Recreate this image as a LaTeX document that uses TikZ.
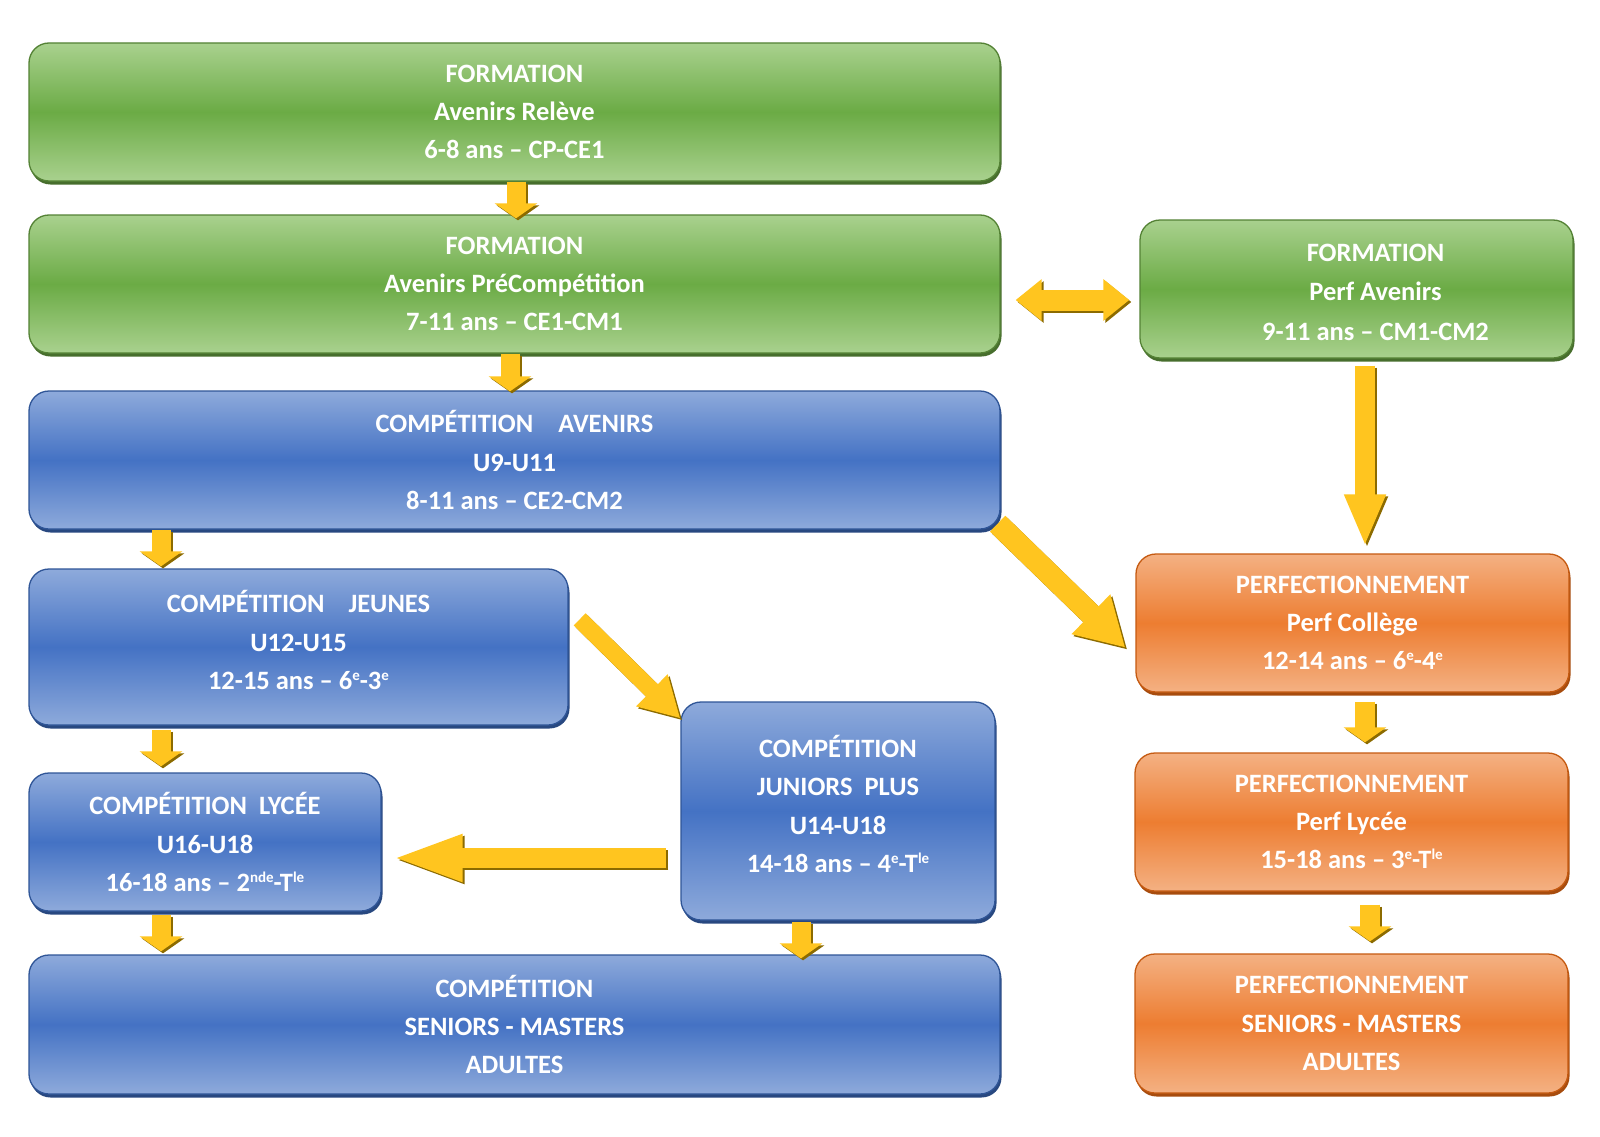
\documentclass[tikz,border=0pt]{standalone}
\usepackage{fontspec}
\setmainfont{Carlito}
\usetikzlibrary{shadows,arrows.meta,calc}
\definecolor{gL}{HTML}{A9D18E}\definecolor{gD}{HTML}{6BAB45}\definecolor{gB}{HTML}{548235}
\definecolor{bL}{HTML}{8EAADB}\definecolor{bD}{HTML}{4472C4}\definecolor{bB}{HTML}{2F5597}
\definecolor{oL}{HTML}{F4B183}\definecolor{oD}{HTML}{ED7D31}\definecolor{oB}{HTML}{C55A11}
\definecolor{ay}{HTML}{FFC51F}\definecolor{as}{HTML}{8C6B00}
\newcommand\sx[1]{\raisebox{9pt}{\fontsize{15}{15}\selectfont #1}}
\tikzset{
 box/.style={rounded corners=20pt, line width=1.3pt, text=white,
   font=\fontsize{26.5}{38.3}\selectfont\bfseries, align=center, inner sep=0pt},
 gbox/.style={box, draw=gB, top color=gL, bottom color=gL, middle color=gD,
   drop shadow={shadow xshift=1.5pt, shadow yshift=-3.5pt, fill=gB!85!black, opacity=1}},
 bbox/.style={box, draw=bB, top color=bL, bottom color=bL, middle color=bD,
   drop shadow={shadow xshift=1.5pt, shadow yshift=-3.5pt, fill=bB!85!black, opacity=1}},
 obox/.style={box, draw=oB, top color=oL, bottom color=oL, middle color=oD,
   drop shadow={shadow xshift=1.5pt, shadow yshift=-3.5pt, fill=oB!85!black, opacity=1}},
 boxtext/.style={text=white, font=\fontsize{26.5}{39.5}\selectfont\bfseries, align=center, inner sep=0pt},
}
\newcommand\yarrow[5]{%
 \draw[line width=#3, draw=as, -{Triangle[width=#4,length=#5]}, transform canvas={shift={(2pt,-2pt)}}] #1 -- #2;
 \draw[line width=#3, draw=ay, -{Triangle[width=#4,length=#5]}] #1 -- #2;}
\newcommand\ydarrow[5]{%
 \draw[line width=#3, draw=as, {Triangle[width=#4,length=#5]}-{Triangle[width=#4,length=#5]}, transform canvas={shift={(2pt,-2pt)}}] #1 -- #2;
 \draw[line width=#3, draw=ay, {Triangle[width=#4,length=#5]}-{Triangle[width=#4,length=#5]}] #1 -- #2;}
\begin{document}
\begin{tikzpicture}[x=1pt,y=-1pt]
\fill[white] (0,0) rectangle (1600,1137);
\useasboundingbox (0,0) rectangle (1600,1137);

% boxes
\node[gbox, minimum width=971pt, minimum height=138pt] (a) at (514.5,112)
  {FORMATION\\Avenirs Relève\\6-8 ans – CP-CE1};
\node[gbox, minimum width=971pt, minimum height=138pt] (b) at (514.5,284)
  {FORMATION\\Avenirs PréCompétition\\7-11 ans – CE1-CM1};
\node[gbox, minimum width=433pt, minimum height=138pt] (c) at (1356.5,289) {};
\node[boxtext] (ct) at ($(c.center)+(19,3)$) {FORMATION\\Perf Avenirs\\9-11 ans – CM1-CM2};
\node[bbox, minimum width=971pt, minimum height=138pt] (d) at (514.5,460)
  {COMPÉTITION\hspace{25pt}AVENIRS\\U9-U11\\8-11 ans – CE2-CM2};
\node[bbox, minimum width=539pt, minimum height=156pt] (e) at (298.5,647)
  {COMPÉTITION\hspace{24pt}JEUNES\\U12-U15\\12-15 ans – 6\sx{e}-3\sx{e}\rule[-14pt]{0pt}{1pt}};
\node[obox, minimum width=433pt, minimum height=138pt] (f) at (1352.5,623)
  {PERFECTIONNEMENT\\Perf Collège\\12-14 ans – 6\sx{e}-4\sx{e}};
\node[bbox, minimum width=314pt, minimum height=218pt] (g) at (838,811)
  {COMPÉTITION\\JUNIORS\hspace{12pt}PLUS\\U14-U18\\14-18 ans – 4\sx{e}-T\sx{le}\rule[-14pt]{0pt}{1pt}};
\node[bbox, minimum width=352pt, minimum height=138pt] (h) at (205,842)
  {COMPÉTITION\hspace{12pt}LYCÉE\\U16-U18\\16-18 ans – 2\sx{nde}-T\sx{le}};
\node[bbox, minimum width=971pt, minimum height=139pt] (i) at (514.5,1024.5)
  {COMPÉTITION\\SENIORS - MASTERS\\ADULTES};
\node[obox, minimum width=433pt, minimum height=138pt] (j) at (1351.5,822)
  {PERFECTIONNEMENT\\Perf Lycée\\15-18 ans – 3\sx{e}-T\sx{le}};
\node[obox, minimum width=433pt, minimum height=139pt] (k) at (1351.5,1023.5)
  {PERFECTIONNEMENT\\SENIORS - MASTERS\\ADULTES};

% x positions of vertical arrows
\coordinate (xAB) at (516,0);
\coordinate (xBD) at (510,0);
\coordinate (xL) at (161,0);
\coordinate (xGI) at (801,0);
\coordinate (xFJ) at (1365,0);
\coordinate (xJK) at (1370,0);
\coordinate (xCF) at (1365,0);
\coordinate (yBC) at (0,300);
\coordinate (yGH) at (0,858);

% short vertical arrows
\yarrow{(a.south -| xAB)}{($(b.north -| xAB)+(0,4)$)}{19pt}{42pt}{15pt}
\yarrow{(b.south -| xBD)}{($(d.north -| xBD)+(0,1)$)}{19pt}{42pt}{15pt}
\yarrow{(d.south -| xL)}{($(e.north -| xL)+(0,-2)$)}{19pt}{42pt}{15pt}
\yarrow{($(e.south -| xL)+(0,4)$)}{($(h.north -| xL)+(0,-6)$)}{19pt}{42pt}{15pt}
\yarrow{($(h.south -| xL)+(0,3)$)}{($(i.north -| xL)+(0,-3)$)}{19pt}{42pt}{15pt}
\yarrow{($(g.south -| xGI)+(0,1)$)}{($(i.north -| xGI)+(0,4)$)}{19pt}{42pt}{15pt}
\yarrow{($(f.south -| xFJ)+(0,9)$)}{($(j.north -| xFJ)+(0,-10)$)}{20pt}{42pt}{15pt}
\yarrow{($(j.south -| xJK)+(0,13)$)}{($(k.north -| xJK)+(0,-12)$)}{20pt}{42pt}{15pt}

% long arrows
\yarrow{($(c.south -| xCF)+(0,7)$)}{($(f.north -| xCF)+(0,-7)$)}{20pt}{38pt}{52pt}
\ydarrow{($(b.east |- yBC)+(15,0)$)}{($(c.west |- yBC)+(-10,0)$)}{21pt}{40pt}{26pt}
\yarrow{($(d.south east)+(-3,-6)$)}{($(f.south west)+(-10,-45)$)}{22pt}{52pt}{48pt}
\yarrow{($(e.north east)+(11,51)$)}{($(g.north west)+(0,17)$)}{17pt}{42pt}{40pt}
\yarrow{($(g.west |- yGH)+(-14,0)$)}{($(h.east |- yGH)+(9,0)$)}{20pt}{42pt}{72pt}
\end{tikzpicture}
\end{document}
